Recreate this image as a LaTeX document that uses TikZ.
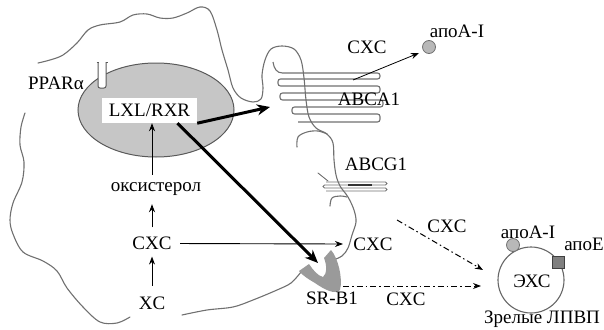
\documentclass[tikz,border=0pt]{standalone}
\usepackage{fontspec}
\setmainfont{Liberation Serif}
\usetikzlibrary{arrows.meta,calc,shapes.geometric}
\definecolor{outl}{HTML}{707070}
\definecolor{nucfill}{HTML}{C6C6C6}
\definecolor{srfill}{HTML}{9A9A9A}
\begin{document}
\begin{tikzpicture}[x=1pt,y=-1pt,
  every node/.style={font=\fontsize{19}{21}\selectfont, inner sep=1.5pt},
  outline/.style={draw=outl, line width=1.1pt, line join=round, line cap=round},
  memb/.style={draw=outl, line width=1.1pt, rounded corners=2.5pt},
  arr/.style={-{Stealth[length=8pt,width=6pt]}, line width=0.9pt},
  thickarr/.style={-{Stealth[length=13pt,width=11pt]}, line width=3pt},
  dasharr/.style={-{Stealth[length=8pt,width=6pt]}, line width=1pt, dash pattern=on 6pt off 3pt on 1.5pt off 3pt},
  apocirc/.style={circle, draw=outl, fill=black!28, line width=0.8pt, minimum size=13pt, inner sep=0pt},
]
\useasboundingbox (0,0) rectangle (604,329);

% ---------- cell outline ----------
\draw[outline] plot[smooth, tension=0.55] coordinates {
 (38,63) (50,60) (63,55) (77,43) (88,30) (100,25) (120,22) (133,15) (147,14) (160,18)
 (173,18) (187,13) (200,7) (210,11) (217,30) (222,50) (228,70) (233,88) (241,98) (253,102)
 (261,99) (263,88) (262,75) (265,60) (271,49) (282,46) (294,49) (301,60) (304,78)
 (306,100) (309,117) (316,128) (327,134) (333,143) (334,160) (336,175) (340,186)
 (348,197) (354,210) (356,222) (352,235) (348,248) (342,256) (331,261)};
\draw[outline] plot[smooth, tension=0.55] coordinates {
 (25,113) (21,127) (20,145) (24,162) (22,182) (13,203) (10,220) (13,234) (23,252)
 (43,261) (57,271) (67,288) (83,307) (100,322) (117,323) (130,317)};
\draw[outline] plot[smooth, tension=0.55] coordinates {
 (182,315) (207,310) (233,307) (253,300) (277,290) (291,283) (301,272)};

% ---------- ABCA1 serpentine ----------
\draw[memb] (273,62) .. controls (274,69) and (277,73) .. (285,73)
  -- (380,73) -- (380,79) -- (278,79) -- (278,86) -- (380,86) -- (380,93)
  -- (280,93) -- (280,100) -- (383,100) -- (383,107) -- (292,107) -- (292,114)
  -- (380,114) -- (380,122) -- (298,122);
\draw[outline] plot[smooth, tension=0.6] coordinates {(297,147) (298,137) (307,132) (318,131) (327,134)};

% ---------- ABCG1 ----------
\draw[outline, line width=0.9pt] (318,173) -- (328,181);
\draw[memb, line width=0.9pt, rounded corners=1.5pt] (326,182) -- (387,182) -- (387,185) -- (323,185)
  -- (323,188) -- (387,188) -- (387,191) -- (326,191);
\draw[black!80, line width=1.8pt] (348,185) -- (372,185);
\draw[outline] plot[smooth, tension=0.6] coordinates {(330,206) (332,198) (340,196) (347,197)};

% ---------- nucleus ----------
\node[ellipse, draw=black!65, fill=nucfill, line width=1pt, minimum width=156pt, minimum height=94pt] (nuc) at (156,110) {};
% PPAR receptor
\draw[draw=black!65, fill=white, line width=1pt, rounded corners=2pt] (98,62) -- (98,88) -- (106,88) -- (106,62);
\draw[draw=black!65, line width=0.9pt] (96.5,62.5) -- (98.5,62.5) (105.5,62.5) -- (107.5,62.5);
\node (ppar) at (56,83) {PPARα};

\node[fill=white, minimum width=95pt, minimum height=25pt, inner sep=0pt] (lxr) at (149.5,110.5) {LXL/RXR};

% ---------- SR-B1 ----------
\path[fill=srfill] (299,271) -- (309,264) .. controls (313,270) and (318,276) .. (323,277)
  .. controls (327,274) and (327,265) .. (324,258) -- (331,250)
  .. controls (338,258) and (343,278) .. (340,290)
  .. controls (335,295) and (325,290) .. (315,283)
  .. controls (308,279) and (302,275) .. cycle;
\node (srb1) at (332,298) {SR-B1};

% ---------- text nodes ----------
\node (oxy) at (156,189) {оксистерол};
\node (cxc1) at (152,243.5) {CXC};
\node (xc) at (152,303) {XC};
\node (cxc2) at (373,244) {CXC};
\node (cxctop) at (367,47) {CXC};
\node (abca1) at (369,99) {ABCA1};
\node (abcg1) at (376,164) {ABCG1};
\node (apotop) at (457,31) {апоА-I};
\node[apocirc] (apotopc) at (429,47) {};
\node (cxc3) at (447,226) {CXC};
\node (cxc4) at (406,299) {CXC};

% ---------- HDL ----------
\node[circle, draw=black!60, line width=1.1pt, minimum size=66pt, inner sep=0pt] (hdl) at (531,280) {};
\node[apocirc] (apoac) at (513,245) {};
\node[rectangle, draw=black!75, fill=black!50, line width=0.8pt, minimum size=12pt, inner sep=0pt] (apoesq) at (558,262) {};
\node (apoa) at (528,232) {апоА-I};
\node (apoe) at (584,244) {апоЕ};
\node (exs) at (532,281) {ЭХС};
\node (hdllab) at (542,319) {Зрелые ЛПВП};

% ---------- coordinates for free ends ----------
\coordinate (membtip) at (270,107);
\coordinate (srtip) at (318,263);
\coordinate (hcxtip) at (343,244);
\coordinate (t1) at (353,80);
\coordinate (t2) at (419,53);
\coordinate (d1s) at (397,220);
\coordinate (d1e) at (483,270);
\coordinate (d2s) at (343,286);
\coordinate (d2e) at (481,286);

% ---------- arrows ----------
\draw[thickarr] (lxr.south east) -- (membtip);
\draw[thickarr] ([xshift=28pt]lxr.south) -- (srtip);
\draw[arr, shorten <=9pt, shorten >=5pt] (xc.north) -- (xc.north |- cxc1.south);
\draw[arr, shorten <=8pt, shorten >=7pt] (cxc1.north) -- (cxc1.north |- oxy.south);
\draw[arr, shorten <=6pt] (oxy.north -| cxc1) -- (lxr.south -| cxc1);
\draw[arr, shorten <=7pt] (cxc1.east) -- (hcxtip);
\draw[arr, line width=0.8pt] (t1) -- (t2);
\draw[dasharr] (d1s) -- (d1e);
\draw[dasharr] (d2s) -- (d2e);
\end{tikzpicture}
\end{document}
